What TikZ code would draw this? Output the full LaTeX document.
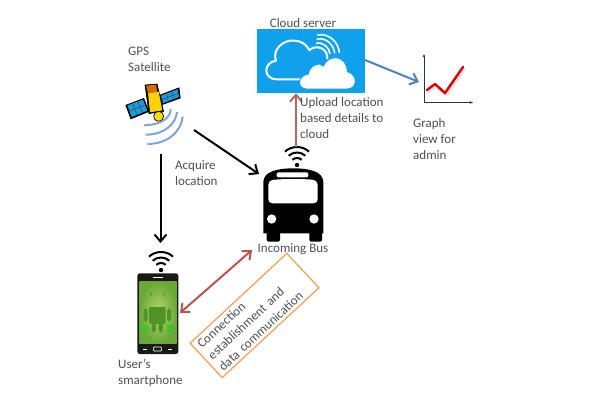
\documentclass[tikz,border=0pt]{standalone}
\usepackage{fontspec}
\setmainfont{Carlito}
\usetikzlibrary{arrows.meta,calc}
\definecolor{txt}{HTML}{505050}
\definecolor{cloudblue}{HTML}{10A0EC}
\definecolor{upred}{HTML}{BC6468}
\definecolor{dblred}{HTML}{B85450}
\definecolor{graphblue}{HTML}{4F81BD}
\definecolor{wave}{HTML}{7FA4DA}
\definecolor{boxorange}{HTML}{EDA55F}
\definecolor{scrlight}{HTML}{B4D868}
\definecolor{scrdark}{HTML}{6AA838}
\definecolor{droid}{HTML}{4F9428}
\definecolor{droidb}{HTML}{45C028}
\definecolor{panel}{HTML}{1E9AD8}
\tikzset{
  lbl/.style={font=\fontsize{13}{16.3}\selectfont,text=txt,align=left,inner sep=0pt},
  conn/.style={line width=2pt,-{Straight Barb[length=7pt,width=12pt,line width=2pt]}},
  conntwo/.style={line width=2pt,{Straight Barb[length=7pt,width=12pt,line width=2pt]}-{Straight Barb[length=7pt,width=12pt,line width=2pt]}},
  zoomed/.style={x=0.33333pt,y=-0.33333pt},
  wifiarc/.style={line width=2pt,black},
  pics/wifi/.style={code={
    \fill[black] (0,0) circle (2.2pt);
    \foreach \r in {7,12.5,18}{\draw[wifiarc] (48:\r pt) arc (48:132:\r pt);}
  }}
}
\begin{document}
\begin{tikzpicture}[x=1pt,y=-1pt]
\useasboundingbox (0,0) rectangle (600,400);

% cloud server
\node[fill=cloudblue,minimum width=108pt,minimum height=64pt,inner sep=0pt] (cloud) at (311,61) {};
\begin{scope}[shift={(240,0)},zoomed]
  \draw[white,line width=2pt] (185,238) -- (110,238) .. controls (70,238) and (68,188) .. (108,182)
     .. controls (95,150) and (130,118) .. (162,122) .. controls (185,122) and (200,135) .. (208,150)
     .. controls (230,132) and (265,145) .. (262,178);
  \draw[white,line width=1.6pt] (228,130) .. controls (250,125) and (268,142) .. (270,162);
  \draw[white,line width=1.6pt] (230,118) .. controls (258,110) and (282,135) .. (284,160);
  \draw[white,line width=1.6pt] (232,105) .. controls (268,98) and (296,128) .. (298,158);
  \fill[white,draw=cloudblue,line width=1pt] (198,267) .. controls (170,265) and (172,226) .. (205,222)
     .. controls (208,195) and (240,185) .. (250,198)
     .. controls (265,160) and (322,165) .. (322,215)
     .. controls (354,222) and (354,267) .. (322,267) -- cycle;
\end{scope}
\node[lbl,anchor=center] (cloudlbl) at (303,23) {Cloud server};

% graph
\node[inner sep=0pt,minimum width=50pt,minimum height=50pt] (graph) at (449,79) {};
\draw[line width=1pt,black!80,{Stealth[length=3.5pt]}-{Stealth[length=3.5pt]}] (424,54) -- (424,102.5) -- (473,102.5);
\draw[line width=3pt,black!12,line join=round,line cap=round] (428,92) -- (436,86) -- (446,95) -- (464,69);
\draw[line width=2.4pt,red!85!black,line join=round,line cap=round] (427,90) -- (435,84) -- (445,93) -- (463,67);
\node[lbl,anchor=north west] (graphlbl) at (413,118) {Graph\\view for\\admin};

% satellite
\begin{scope}[shift={(100,0)},zoomed]
  \fill[black] (76,315) -- (132,294) -- (148,335) -- (92,358) -- cycle;
  \fill[black] (178,285) -- (238,262) -- (242,295) -- (186,315) -- cycle;
  \fill[panel] (82,316) -- (129,299) -- (142,332) -- (95,351) -- cycle;
  \fill[panel] (183,287) -- (233,268) -- (237,291) -- (189,310) -- cycle;
  \draw[black!75,line width=0.4pt] (98,310) -- (111,345) (114,304) -- (127,338) (88,333) -- (135,315);
  \draw[black!75,line width=0.4pt] (200,280) -- (205,304) (216,274) -- (221,298) (186,299) -- (235,280);
  \fill[black] (134,254) -- (172,251) -- (192,335) -- (146,342) -- cycle;
  \fill[yellow!70!orange] (144,278) -- (176,275) -- (187,331) -- (150,337) -- cycle;
  \fill[orange!85!black] (138,257) -- (168,254) -- (172,276) -- (144,280) -- cycle;
  \fill[yellow!80!orange,draw=black,line width=0.7pt] (176,349) circle (15*0.33333pt);
  \draw[wave,line width=2pt] (212,327) .. controls (212,350) and (190,374) .. (132,376);
  \draw[wave,line width=2pt] (231,336) .. controls (228,370) and (195,404) .. (137,404);
  \draw[wave,line width=2pt] (248,350) .. controls (244,392) and (205,432) .. (142,432);
\end{scope}
\node[inner sep=0pt,minimum width=56pt,minimum height=62pt] (sat) at (154,115) {};
\node[lbl,anchor=north west] (satlbl) at (128,47) {GPS\\Satellite};

% bus
\begin{scope}[shift={(110,140)},zoomed]
  \fill[black,rounded corners=2pt] (470,270) rectangle (510,305);
  \fill[black,rounded corners=2pt] (598,270) rectangle (636,305);
  \fill[black] (460,280) -- (460,125) .. controls (462,95) and (500,85) .. (550,85)
     .. controls (600,85) and (638,95) .. (640,125) -- (640,280) -- cycle;
  \fill[white,rounded corners=4pt] (475,122) .. controls (510,116) and (590,116) .. (623,122) -- (623,190) -- (475,190) -- cycle;
  \fill[white,rounded corners=2pt] (500,97) rectangle (595,112);
  \fill[white] (485,237) circle (14*0.33333pt);
  \fill[white] (612,237) circle (14*0.33333pt);
\end{scope}
\node[inner sep=0pt,minimum width=60pt,minimum height=74pt] (bus) at (293,205) {};
\pic at (297,165) {wifi};
\node[lbl,anchor=center] (buslbl) at (293,249) {Incoming Bus};

% phone
\begin{scope}[shift={(110,140)},zoomed]
  \fill[black!90,rounded corners=2.5pt] (82,400) rectangle (205,642);
  \shade[inner color=scrlight,outer color=scrdark] (88,425) rectangle (200,610);
  \fill[droid,rounded corners=2pt] (117,505) rectangle (167,552);
  \fill[droid] (117,501) arc (180:0:25 and 25) -- cycle;
  \draw[droid,line width=0.8pt] (126,468) -- (120,458) (158,468) -- (164,458);
  \fill[droid,rounded corners=3pt] (101,505) rectangle (113,545);
  \fill[droid,rounded corners=3pt] (171,505) rectangle (183,545);
  \fill[droid,rounded corners=3pt] (125,548) rectangle (138,577);
  \fill[droid,rounded corners=3pt] (146,548) rectangle (159,577);
  \fill[droidb] (92,555) rectangle (115,577);
  \fill[droidb] (170,555) rectangle (192,577);
  \draw[white!70,line width=0.6pt,rounded corners=1pt] (130,621) rectangle (155,633);
  \draw[white!60,line width=0.5pt] (100,627) -- (110,627) (175,627) -- (185,627) (128,411) -- (158,411);
\end{scope}
\node[inner sep=0pt,minimum width=41pt,minimum height=80pt] (phone) at (157.5,313) {};
\pic at (161,270) {wifi};
\node[lbl,anchor=north west] (phonelbl) at (118,359) {User's\\smartphone};

% connector ends
\coordinate (satfoot) at (160.5,154);
\coordinate (phonetop) at (160.5,243);
\coordinate (satright) at (194,130);
\coordinate (busleft) at (259,174);
\coordinate (bustop) at (296,147);
\coordinate (cloudbot) at (cloud.south -| bustop);
\coordinate (cloudright) at (365,60);
\coordinate (graphleft) at (419,82);
\coordinate (phoneright) at (180,313);
\coordinate (busbot) at (252,250);

\draw[conn,black] (satfoot) -- (phonetop);
\draw[conn,black] (satright) -- (busleft);
\draw[conn,upred] (bustop) -- (cloudbot);
\draw[conn,graphblue] (cloudright) -- (graphleft);
\draw[conntwo,dblred] (phoneright) -- (busbot);

% labels
\node[lbl,anchor=north west] (acq) at (175,160) {Acquire\\location};
\node[lbl,anchor=north west] (upl) at (300,97) {Upload location\\based details to\\cloud};
\node[draw=boxorange,line width=1.3pt,rotate=42.9,minimum width=132pt,minimum height=47pt,inner sep=0pt,font=\fontsize{13}{15.7}\selectfont,text=txt,align=left,text width=122pt] (box) at (254.5,315.5) {Connection\\establishment and\\data communication};
\end{tikzpicture}
\end{document}
